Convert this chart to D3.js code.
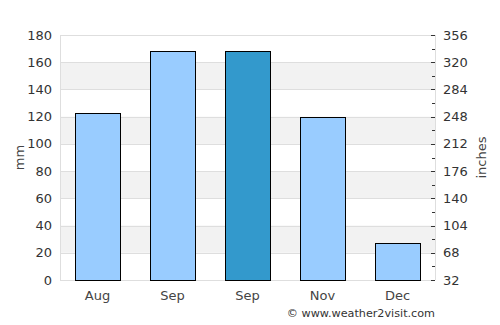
<!DOCTYPE html>
<html>
<head>
<meta charset="utf-8">
<script src="https://cdn.jsdelivr.net/npm/d3@7"></script>
<style>
  body { margin: 0; background: #fff; }
  text { font-family: "DejaVu Sans", sans-serif; }
</style>
</head>
<body>
<div id="vis"></div>
<script>
var width = 500;
var height = 325;

var months = ["Aug", "Sep", "Sep ", "Nov", "Dec"];
var rainMm = [123, 168, 168, 120, 27];
var highlight = [false, false, true, false, false];
var mmTicks = [0, 20, 40, 60, 80, 100, 120, 140, 160, 180];
var rightTicks = [32, 68, 104, 140, 176, 212, 248, 284, 320, 356];
var rightMinor = [50, 86, 122, 158, 194, 230, 266, 302, 338];

var margin = {top: 35, right: 65, bottom: 45, left: 60};
var x0 = margin.left, x1 = width - margin.right;
var y0 = height - margin.bottom, y1 = margin.top;

var x = d3.scaleBand().domain(months).range([x0, x1]).paddingInner(0.4).paddingOuter(0.2);
var y = d3.scaleLinear().domain([0, 180]).range([y0, y1]);
var y2 = d3.scaleLinear().domain([32, 356]).range([y0, y1]);

var svg = d3.select("#vis").append("svg")
  .attr("width", width).attr("height", height);

// alternating bands
svg.append("g").selectAll("rect")
  .data(mmTicks.slice(0, -1).filter((d, i) => i % 2 == 1))
  .enter().append("rect")
  .attr("x", x0).attr("width", x1 - x0)
  .attr("y", d => y(d + 20)).attr("height", d => y(d) - y(d + 20))
  .attr("fill", "#f2f2f2");

// grid lines
svg.append("g").selectAll("line")
  .data(mmTicks)
  .enter().append("line")
  .attr("x1", x0).attr("x2", x1)
  .attr("y1", d => Math.round(y(d)) + 0.5).attr("y2", d => Math.round(y(d)) + 0.5)
  .attr("stroke", "#dedede");

svg.append("line").attr("x1", x0 + 0.5).attr("x2", x0 + 0.5).attr("y1", y1).attr("y2", y0)
  .attr("stroke", "#dedede");
svg.append("line").attr("x1", x1 + 0.5).attr("x2", x1 + 0.5).attr("y1", y1).attr("y2", y0)
  .attr("stroke", "#dedede");

// bars
svg.append("g").selectAll("rect")
  .data(months)
  .enter().append("rect")
  .attr("x", d => Math.round(x(d)) + 0.5)
  .attr("width", Math.round(x.bandwidth()))
  .attr("y", (d, i) => Math.round(y(rainMm[i])) + 0.5)
  .attr("height", (d, i) => Math.round(y0) - Math.round(y(rainMm[i])))
  .attr("fill", (d, i) => highlight[i] ? "#3399cc" : "#99ccff")
  .attr("stroke", "#000")
  .attr("stroke-width", 1);

// left labels
svg.append("g").selectAll("text")
  .data(mmTicks)
  .enter().append("text")
  .attr("x", x0 - 8).attr("y", d => y(d)).attr("dy", "0.35em")
  .attr("text-anchor", "end")
  .attr("font-size", 13).attr("fill", "#333")
  .text(d => d);

// right ticks
svg.append("g").selectAll("line")
  .data(rightTicks)
  .enter().append("line")
  .attr("x1", x1 - 4).attr("x2", x1)
  .attr("y1", d => Math.round(y2(d)) + 0.5).attr("y2", d => Math.round(y2(d)) + 0.5)
  .attr("stroke", "#333");
svg.append("g").selectAll("line")
  .data(rightMinor)
  .enter().append("line")
  .attr("x1", x1 - 3).attr("x2", x1)
  .attr("y1", d => Math.round(y2(d)) + 0.5).attr("y2", d => Math.round(y2(d)) + 0.5)
  .attr("stroke", "#333");

svg.append("g").selectAll("text")
  .data(rightTicks)
  .enter().append("text")
  .attr("x", x1 + 8).attr("y", d => y2(d)).attr("dy", "0.35em")
  .attr("font-size", 13).attr("fill", "#333")
  .text(d => d);

// x labels
svg.append("g").selectAll("text")
  .data(months)
  .enter().append("text")
  .attr("x", d => x(d) + x.bandwidth() / 2).attr("y", y0 + 20)
  .attr("text-anchor", "middle")
  .attr("font-size", 13).attr("fill", "#444")
  .text(d => d.trim());

// axis titles
svg.append("text")
  .attr("transform", "translate(24," + ((y0 + y1) / 2) + ") rotate(-90)")
  .attr("text-anchor", "middle")
  .attr("font-size", 13).attr("fill", "#444")
  .text("mm");
svg.append("text")
  .attr("transform", "translate(486," + ((y0 + y1) / 2) + ") rotate(-90)")
  .attr("text-anchor", "middle")
  .attr("font-size", 13).attr("fill", "#444")
  .text("inches");

svg.append("text")
  .attr("x", x1).attr("y", 317)
  .attr("text-anchor", "end")
  .attr("font-size", 11.2).attr("fill", "#333")
  .text("© www.weather2visit.com");
</script>
</body>
</html>
